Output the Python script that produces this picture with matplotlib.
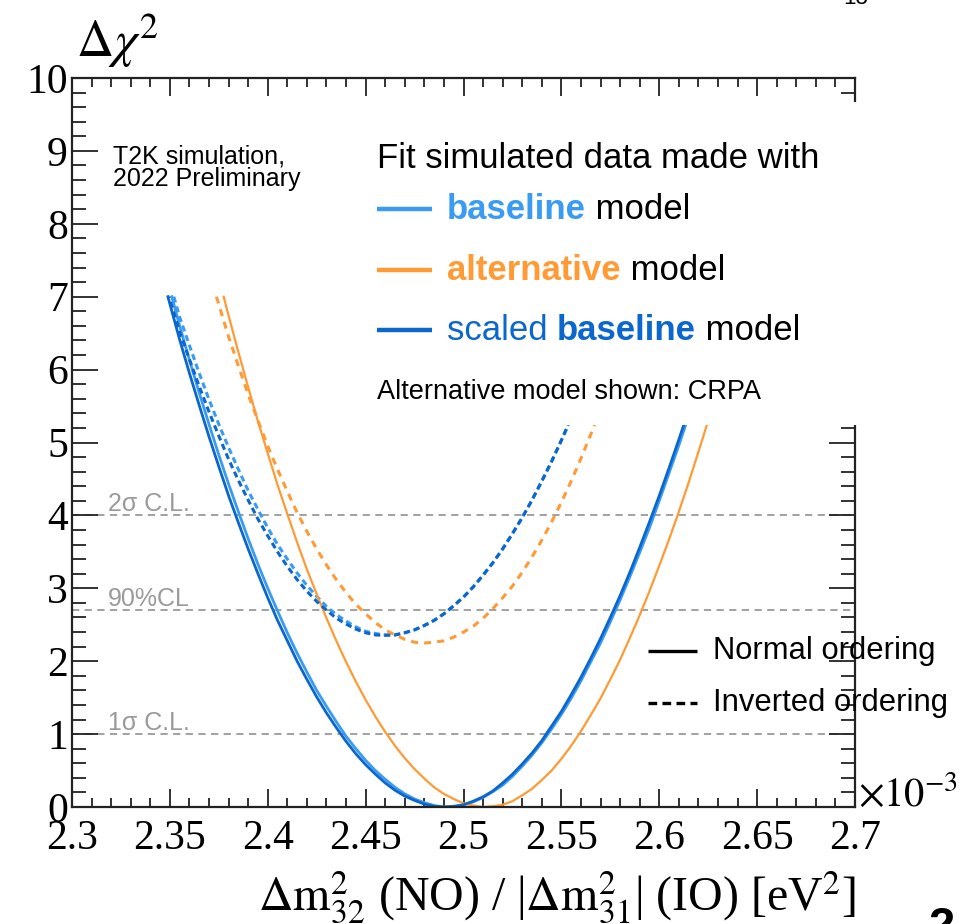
import matplotlib
matplotlib.use("Agg")
import matplotlib.pyplot as plt
from matplotlib.patches import Rectangle
from matplotlib.ticker import MultipleLocator, FuncFormatter

# --- delta chi^2 profiles, x in units of 1e-3 eV^2 ---
# baseline model, normal ordering (light blue, solid)
base_no_x = [2.351, 2.355, 2.36, 2.365, 2.37, 2.375, 2.38, 2.385, 2.39, 2.395, 2.40, 2.405,
             2.41, 2.415, 2.42, 2.425, 2.43, 2.435, 2.44, 2.445, 2.45, 2.455, 2.46, 2.465,
             2.47, 2.475, 2.48, 2.485, 2.49, 2.495, 2.50, 2.505, 2.51, 2.515, 2.52, 2.525,
             2.53, 2.535, 2.54, 2.545, 2.55, 2.555, 2.56, 2.565, 2.57, 2.575, 2.58, 2.585,
             2.59, 2.595, 2.60, 2.605, 2.61, 2.6135]
base_no_y = [7.00, 6.60, 6.13, 5.68, 5.25, 4.83, 4.43, 4.05, 3.68, 3.33, 3.00, 2.69,
             2.39, 2.11, 1.85, 1.60, 1.38, 1.17, 0.97, 0.80, 0.64, 0.50, 0.38, 0.27,
             0.18, 0.11, 0.06, 0.02, 0.00, 0.00, 0.03, 0.07, 0.13, 0.21, 0.30, 0.42,
             0.56, 0.71, 0.88, 1.07, 1.27, 1.49, 1.73, 1.99, 2.25, 2.54, 2.84, 3.16,
             3.49, 3.83, 4.20, 4.58, 4.96, 5.24]

# scaled baseline model, normal ordering (dark blue, solid)
scaled_no_x = [2.349, 2.355, 2.36, 2.365, 2.37, 2.375, 2.38, 2.385, 2.39, 2.395, 2.40, 2.405,
               2.41, 2.415, 2.42, 2.425, 2.43, 2.435, 2.44, 2.445, 2.45, 2.455, 2.46, 2.465,
               2.47, 2.475, 2.48, 2.485, 2.49, 2.495, 2.50, 2.505, 2.51, 2.515, 2.52, 2.525,
               2.53, 2.535, 2.54, 2.545, 2.55, 2.555, 2.56, 2.565, 2.57, 2.575, 2.58, 2.585,
               2.59, 2.595, 2.60, 2.605, 2.61, 2.6125]
scaled_no_y = [7.00, 6.41, 5.95, 5.51, 5.08, 4.67, 4.27, 3.90, 3.54, 3.20, 2.87, 2.56,
               2.28, 2.00, 1.75, 1.51, 1.29, 1.09, 0.90, 0.73, 0.58, 0.45, 0.33, 0.23,
               0.15, 0.09, 0.04, 0.01, 0.00, 0.01, 0.03, 0.08, 0.14, 0.22, 0.33, 0.45,
               0.59, 0.74, 0.91, 1.11, 1.31, 1.54, 1.78, 2.04, 2.31, 2.60, 2.90, 3.22,
               3.56, 3.91, 4.27, 4.65, 5.04, 5.24]

# alternative (CRPA) model, normal ordering (orange, solid)
alt_no_x = [2.3775, 2.38, 2.385, 2.39, 2.395, 2.40, 2.405, 2.41, 2.415, 2.42, 2.425, 2.43,
            2.435, 2.44, 2.445, 2.45, 2.455, 2.46, 2.465, 2.47, 2.475, 2.48, 2.485, 2.49,
            2.495, 2.50, 2.505, 2.51, 2.515, 2.52, 2.525, 2.53, 2.535, 2.54, 2.545, 2.55,
            2.555, 2.56, 2.565, 2.57, 2.575, 2.58, 2.585, 2.59, 2.595, 2.60, 2.605, 2.61,
            2.615, 2.62, 2.6243]
alt_no_y = [7.00, 6.74, 6.24, 5.76, 5.29, 4.85, 4.42, 4.02, 3.63, 3.26, 2.92, 2.59,
            2.28, 1.99, 1.72, 1.47, 1.24, 1.03, 0.84, 0.67, 0.52, 0.39, 0.27, 0.18,
            0.11, 0.05, 0.02, 0.00, 0.01, 0.03, 0.08, 0.16, 0.25, 0.37, 0.50, 0.66,
            0.84, 1.04, 1.26, 1.49, 1.75, 2.02, 2.32, 2.63, 2.96, 3.31, 3.67, 4.05,
            4.45, 4.87, 5.24]

# baseline model, inverted ordering (light blue, dashed)
base_io_x = [2.352, 2.355, 2.36, 2.365, 2.37, 2.375, 2.38, 2.385, 2.39, 2.395, 2.40, 2.405,
             2.41, 2.415, 2.42, 2.425, 2.43, 2.435, 2.44, 2.445, 2.45, 2.455, 2.46, 2.465,
             2.47, 2.475, 2.48, 2.485, 2.49, 2.495, 2.50, 2.505, 2.51, 2.515, 2.52, 2.525,
             2.53, 2.535, 2.54, 2.545, 2.55, 2.5535]
base_io_y = [7.00, 6.72, 6.33, 5.95, 5.59, 5.25, 4.93, 4.63, 4.34, 4.08, 3.83, 3.60,
             3.40, 3.21, 3.04, 2.89, 2.75, 2.64, 2.55, 2.47, 2.41, 2.38, 2.36, 2.36,
             2.39, 2.43, 2.49, 2.56, 2.65, 2.76, 2.88, 3.02, 3.18, 3.35, 3.54, 3.75,
             3.97, 4.21, 4.47, 4.74, 5.03, 5.24]

# scaled baseline model, inverted ordering (dark blue, dashed)
scaled_io_x = [2.3495, 2.355, 2.36, 2.365, 2.37, 2.375, 2.38, 2.385, 2.39, 2.395, 2.40, 2.405,
               2.41, 2.415, 2.42, 2.425, 2.43, 2.435, 2.44, 2.445, 2.45, 2.455, 2.46, 2.465,
               2.47, 2.475, 2.48, 2.485, 2.49, 2.495, 2.50, 2.505, 2.51, 2.515, 2.52, 2.525,
               2.53, 2.535, 2.54, 2.545, 2.55, 2.5535]
scaled_io_y = [7.00, 6.52, 6.14, 5.77, 5.42, 5.09, 4.77, 4.48, 4.21, 3.95, 3.72, 3.50,
               3.30, 3.12, 2.96, 2.82, 2.70, 2.59, 2.51, 2.44, 2.39, 2.36, 2.355, 2.36,
               2.39, 2.43, 2.49, 2.56, 2.65, 2.76, 2.88, 3.02, 3.18, 3.35, 3.54, 3.75,
               3.97, 4.21, 4.47, 4.74, 5.03, 5.24]

# alternative (CRPA) model, inverted ordering (orange, dashed)
alt_io_x = [2.3738, 2.38, 2.385, 2.39, 2.395, 2.40, 2.405, 2.41, 2.415, 2.42, 2.425, 2.43,
            2.435, 2.44, 2.445, 2.45, 2.455, 2.46, 2.465, 2.47, 2.475, 2.48, 2.485, 2.49,
            2.495, 2.50, 2.505, 2.51, 2.515, 2.52, 2.525, 2.53, 2.535, 2.54, 2.545, 2.55,
            2.555, 2.56, 2.565, 2.567]
alt_io_y = [7.00, 6.45, 6.05, 5.66, 5.30, 4.95, 4.63, 4.33, 4.04, 3.78, 3.54, 3.32,
            3.12, 2.94, 2.78, 2.65, 2.53, 2.43, 2.36, 2.30, 2.26, 2.25, 2.26, 2.28,
            2.33, 2.40, 2.48, 2.59, 2.72, 2.87, 3.03, 3.22, 3.43, 3.66, 3.91, 4.18,
            4.47, 4.78, 5.11, 5.24]

cl_levels = [4.0, 2.7, 1.0]
cl_labels = ["2σ C.L.", "90%CL", "1σ C.L."]

LIGHT = "#3A9BF2"
DARK = "#0B66CE"
ORANGE = "#FF9A35"
GREY = "#9a9a9a"
SANS = ["Liberation Sans", "DejaVu Sans"]
SERIF = ["Liberation Serif", "DejaVu Serif"]

plt.rcParams["font.family"] = SERIF
plt.rcParams["mathtext.fontset"] = "stix"

fig = plt.figure(figsize=(9.6, 9.24), dpi=100)
ax = fig.add_axes([72/960, 1-807/924, (855-72)/960, (807-78)/924])

# confidence levels
for lv, lab in zip(cl_levels, cl_labels):
    ax.axhline(lv, color=GREY, lw=1.3, ls=(0, (4, 3)), zorder=1)
    ax.text(2.3184, lv + 0.06, lab, color=GREY, fontsize=18, family=SANS, va="baseline", zorder=1)

# curves: light blue = baseline, orange = alternative, dark blue = scaled baseline
ax.plot(base_io_x, base_io_y, color=LIGHT, lw=2.2, ls=(0, (2, 1.3)), zorder=2)
ax.plot(base_no_x, base_no_y, color=LIGHT, lw=2.0, zorder=2)
ax.plot(alt_io_x, alt_io_y, color=ORANGE, lw=2.2, ls=(0, (2.3, 2)), zorder=2)
ax.plot(alt_no_x, alt_no_y, color=ORANGE, lw=1.6, zorder=2)
ax.plot(scaled_io_x, scaled_io_y, color=DARK, lw=2.2, ls=(1.5, (2, 1.3)), zorder=2)
ax.plot(scaled_no_x, scaled_no_y, color=DARK, lw=2.0, zorder=2)

ax.set_xlim(2.3, 2.7)
ax.set_ylim(0, 10)
ax.xaxis.set_major_locator(MultipleLocator(0.05))
ax.xaxis.set_minor_locator(MultipleLocator(0.01))
ax.yaxis.set_major_locator(MultipleLocator(1))
ax.yaxis.set_minor_locator(MultipleLocator(0.2))
ax.xaxis.set_major_formatter(FuncFormatter(lambda v, p: f"{v:g}"))
ax.yaxis.set_major_formatter(FuncFormatter(lambda v, p: f"{v:g}"))
ax.tick_params(axis="x", which="major", direction="in", length=13, width=1.3, top=True,
               labelsize=30, pad=9, color="#222222")
ax.tick_params(axis="x", which="minor", direction="in", length=6.5, width=1.3, top=True, color="#222222")
ax.tick_params(axis="y", which="major", direction="in", length=19, width=1.3, right=True,
               labelsize=30, pad=3, color="#222222")
ax.tick_params(axis="y", which="minor", direction="in", length=10, width=1.3, right=True, color="#222222")
for s in ax.spines.values():
    s.set_linewidth(1.6)
    s.set_color("#222222")

# legend panel hides the frame's right edge above ~5.2
ax.add_patch(Rectangle((0.368, 0.5245), 0.66, 0.4425, transform=ax.transAxes,
                       facecolor="white", edgecolor="none", zorder=3, clip_on=False))

def lt(x, y, s, **kw):
    kw.setdefault("family", SANS)
    return ax.text(x, y, s, transform=ax.transAxes, zorder=5, **kw)

def after(prev, s, **kw):
    kw.setdefault("family", SANS)
    return ax.annotate(s, xy=(1, 0), xycoords=prev, ha="left", va="bottom", zorder=5, **kw)

lt(0.0526, 0.909, "T2K simulation,\n2022 Preliminary", fontsize=18, va="top",
   linespacing=0.93)
lt(0.3895, 0.876, "Fit simulated data made with", fontsize=25, va="baseline")

leg = [(0.8203, LIGHT, [("baseline", LIGHT, "bold"), (" model", "black", "normal")]),
       (0.7366, ORANGE, [("alternative", ORANGE, "bold"), (" model", "black", "normal")]),
       (0.6543, DARK, [("scaled ", DARK, "normal"), ("baseline", DARK, "bold"),
                       (" model", "black", "normal")])]
for y, col, parts in leg:
    ax.plot([0.3895, 0.4598], [y, y], transform=ax.transAxes, color=col, lw=3.2,
            clip_on=False, zorder=5, solid_capstyle="butt")
    t = None
    for s, c, w in parts:
        if t is None:
            t = lt(0.4789, y, s, fontsize=25, color=c, weight=w, va="center")
        else:
            t = after(t, s, fontsize=25, color=c, weight=w)

lt(0.3895, 0.5693, "Alternative model shown: CRPA", fontsize=19.5, va="center")

ax.plot([0.7356, 0.7982], [0.214, 0.214], transform=ax.transAxes, color="black", lw=2.4,
        clip_on=False, zorder=5, solid_capstyle="butt")
ax.plot([0.7356, 0.7982], [0.1427, 0.1427], transform=ax.transAxes, color="black", lw=2.4,
        ls=(0, (2.6, 1.6)), clip_on=False, zorder=5)
lt(0.8186, 0.214, "Normal ordering", fontsize=22.3, va="center")
lt(0.8186, 0.1427, "Inverted ordering", fontsize=22.3, va="center")

# axis titles
fig.text(76/960, 1-57/924, r"$\Delta\chi^{2}$", fontsize=37, va="baseline", ha="left")
fig.text(858/960, 1-806/924, r"$\times10^{-3}$", fontsize=29, va="baseline", ha="left")
fig.text(856/960, 1-910/924,
         r"$\Delta\mathrm{m}^{2}_{32}$ (NO) / |$\Delta\mathrm{m}^{2}_{31}$| (IO) [eV$^{2}$]",
         fontsize=34.5, va="baseline", ha="right")

# slide page numbers at the edges
fig.text(843/960, 1-4/924, "13", fontsize=16, family=SANS, va="baseline")
fig.text(928/960, 1-940/924, "2", fontsize=34, weight="bold", family=SANS, va="baseline")

fig.savefig("out.png", dpi=100, facecolor="white")
